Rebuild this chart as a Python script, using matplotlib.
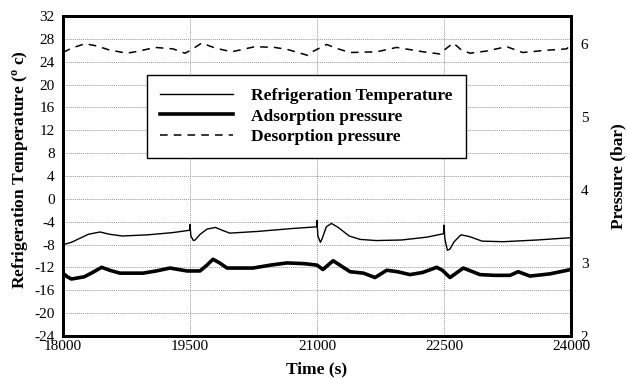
import matplotlib
matplotlib.use("Agg")
import matplotlib.pyplot as plt

plt.rcParams["font.family"] = ["Liberation Serif", "DejaVu Serif"]
plt.rcParams["mathtext.fontset"] = "custom"
plt.rcParams["mathtext.rm"] = "Liberation Serif"
plt.rcParams["mathtext.bf"] = "Liberation Serif:bold"
plt.rcParams["axes.unicode_minus"] = False

# Refrigeration temperature (deg C) vs time (s)
t_ref = [18000, 18005, 18030, 18100, 18200, 18300, 18437, 18550, 18700, 19000,
         19300, 19495, 19500, 19510, 19540, 19560, 19620, 19700, 19800, 19880,
         19970, 20300, 20700, 20995, 21000, 21010, 21040, 21060, 21110, 21170,
         21250, 21380, 21510, 21700, 22000, 22300, 22495, 22500, 22510, 22540,
         22570, 22620, 22700, 22800, 22950, 23200, 23600, 24000]
temp_ref = [-5.2, -7.9, -7.9, -7.6, -6.9, -6.2, -5.8, -6.2, -6.5, -6.3,
            -5.9, -5.5, -4.5, -6.5, -7.3, -7.2, -6.2, -5.3, -5.0, -5.5,
            -6.0, -5.7, -5.2, -4.9, -3.8, -6.5, -7.6, -7.0, -4.9, -4.3,
            -5.0, -6.5, -7.1, -7.3, -7.2, -6.7, -6.1, -4.6, -7.0, -9.0,
            -8.8, -7.5, -6.3, -6.6, -7.4, -7.5, -7.2, -6.8]

# Adsorption pressure (bar)
t_ads = [18000, 18050, 18100, 18250, 18350, 18457, 18550, 18673, 18945, 19100,
         19264, 19464, 19618, 19700, 19772, 19850, 19937, 20244, 20450, 20645,
         20850, 21000, 21070, 21190, 21390, 21550, 21685, 21823, 21950, 22098,
         22250, 22413, 22480, 22571, 22728, 22925, 23100, 23280, 23375, 23516,
         23750, 24000]
p_ads = [2.86, 2.81, 2.78, 2.81, 2.87, 2.94, 2.90, 2.86, 2.86, 2.89,
         2.93, 2.89, 2.89, 2.97, 3.05, 3.00, 2.93, 2.93, 2.97, 3.00,
         2.99, 2.97, 2.91, 3.03, 2.88, 2.86, 2.80, 2.90, 2.88, 2.84,
         2.87, 2.94, 2.90, 2.80, 2.93, 2.84, 2.83, 2.83, 2.88, 2.82,
         2.85, 2.91]

# Desorption pressure (bar)
t_des = [18000, 18100, 18260, 18400, 18532, 18752, 18900, 19087, 19300, 19441,
         19520, 19638, 19800, 19992, 20268, 20500, 20657, 20893, 20960, 21114,
         21250, 21390, 21705, 21941, 22252, 22453, 22520, 22610, 22700, 22807,
         23000, 23240, 23430, 23700, 23949, 24000]
p_des = [5.88, 5.94, 6.00, 5.97, 5.92, 5.87, 5.90, 5.95, 5.93, 5.87,
         5.92, 6.01, 5.94, 5.89, 5.96, 5.95, 5.92, 5.84, 5.90, 5.99,
         5.93, 5.88, 5.89, 5.95, 5.89, 5.86, 5.93, 6.01, 5.92, 5.87,
         5.90, 5.96, 5.88, 5.91, 5.93, 5.99]

x_ticks = [18000, 19500, 21000, 22500, 24000]
temp_ticks = list(range(-24, 33, 4))
p_ticks = [2, 3, 4, 5, 6]

fig = plt.figure(figsize=(6.27, 3.79), dpi=100)
ax = fig.add_axes([0.1005, 0.1135, 0.8102, 0.8443])
ax2 = ax.twinx()

l1, = ax.plot(t_ref, temp_ref, color="black", lw=1.0)
l2, = ax2.plot(t_ads, p_ads, color="black", lw=2.6)
l3, = ax2.plot(t_des, p_des, color="black", lw=1.1, dashes=(5, 4))

ax.set_xlim(18000, 24000)
ax.set_ylim(-24, 32)
ax2.set_ylim(2, 6.38)
ax.set_xticks(x_ticks)
ax.set_yticks(temp_ticks)
ax2.set_yticks(p_ticks)

ax.grid(True, color="#999999", lw=0.7, ls=(0, (1, 1)))
ax.tick_params(axis="x", length=0, labelsize=11, pad=3)
ax.tick_params(axis="y", length=0, labelsize=11, pad=6)
ax2.tick_params(axis="y", length=0, labelsize=11, pad=7)
for sp in list(ax.spines.values()) + list(ax2.spines.values()):
    sp.set_linewidth(2)

ax.set_xlabel("Time (s)", fontsize=12.5, fontweight="bold")
ax.xaxis.set_label_coords(0.5, -0.08)
ax.set_ylabel(r"Refrigeration Temperature ($\mathregular{^{o}}$ c)",
              fontsize=12.5, fontweight="bold")
ax.yaxis.set_label_coords(-0.065, 0.52)
ax2.set_ylabel("Pressure (bar)", fontsize=12.5, fontweight="bold")
ax2.yaxis.set_label_coords(1.078, 0.5)

leg = ax2.legend([l1, l2, l3],
                 ["Refrigeration Temperature", "Adsorption pressure", "Desorption pressure"],
                 loc="upper left", bbox_to_anchor=(0.165, 0.816), borderaxespad=0,
                 prop={"weight": "bold", "size": 12.5},
                 handlelength=4.2, handletextpad=1.05, labelspacing=0.25,
                 borderpad=0.75, fancybox=False, framealpha=1, edgecolor="black")
leg.get_frame().set_linewidth(1.0)

fig.savefig("out.png", dpi=100)
